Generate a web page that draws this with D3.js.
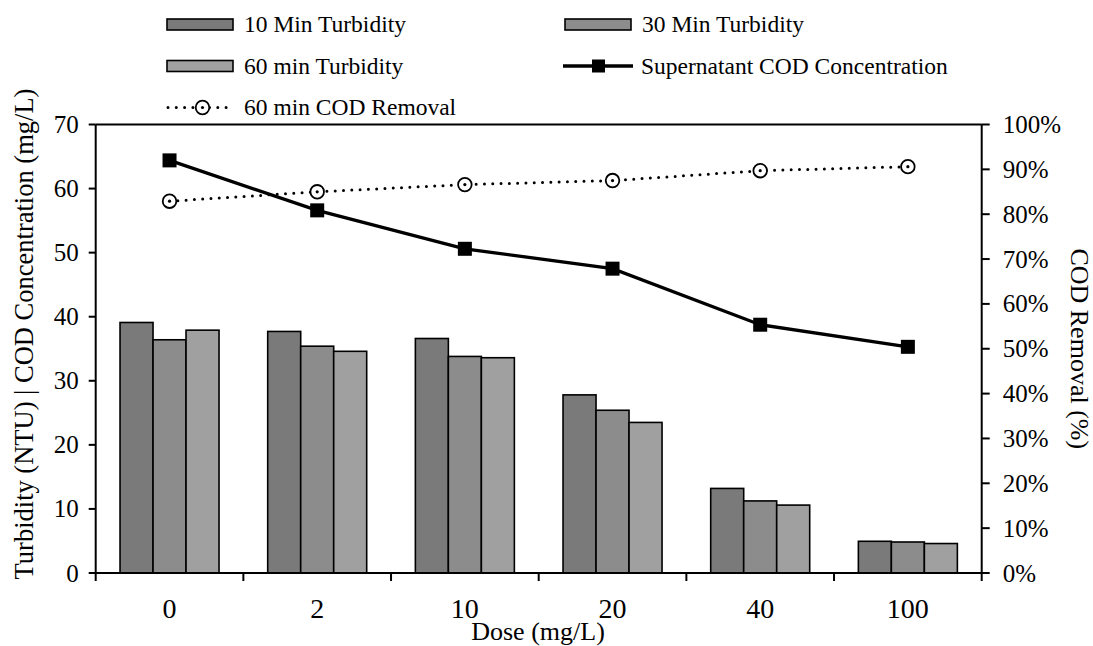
<!DOCTYPE html>
<html>
<head>
<meta charset="utf-8">
<script src="https://cdn.jsdelivr.net/npm/d3@7/dist/d3.min.js"></script>
<style>
  html, body { margin: 0; padding: 0; background: #fff; }
  svg { display: block; }
  text { font-family: "Liberation Serif", "Times New Roman", "DejaVu Serif", serif; fill: #000; }
</style>
</head>
<body>
<svg id="chart" width="1093" height="646" font-family="Liberation Serif, Times New Roman, serif"></svg>
<script>
// ---- data ----
const doses = ["0", "2", "10", "20", "40", "100"];
const seriesNames = ["10 Min Turbidity", "30 Min Turbidity", "60 min Turbidity"];
const turb10 = [39.1, 37.7, 36.6, 27.8, 13.2, 4.95];
const turb30 = [36.4, 35.4, 33.8, 25.4, 11.25, 4.84];
const turb60 = [37.9, 34.6, 33.6, 23.5, 10.6, 4.6];
const codConc = [64.4, 56.6, 50.6, 47.5, 38.75, 35.3];
const codRemoval = [82.9, 85.0, 86.6, 87.5, 89.7, 90.6];
const leftTicks = [0, 10, 20, 30, 40, 50, 60, 70];
const rightTicks = [0, 10, 20, 30, 40, 50, 60, 70, 80, 90, 100];

const barColors = ["#7a7a7a", "#8c8c8c", "#a0a0a0"];

const svg = d3.select("#chart");
const L = 95.7, R = 981.7, T = 124.5, B = 573;

const x0 = d3.scaleBand().domain(doses).range([L, R]).padding(0);
const groupW = 99;
const x1 = d3.scaleBand().domain(seriesNames)
  .range([(x0.bandwidth() - groupW) / 2, (x0.bandwidth() + groupW) / 2]).padding(0);
const yL = d3.scaleLinear().domain([0, 70]).range([B, T]);
const yR = d3.scaleLinear().domain([0, 100]).range([B, T]);

// bars
const barData = [turb10, turb30, turb60];
doses.forEach((d, i) => {
  const g = svg.append("g").attr("transform", `translate(${x0(d)},0)`);
  seriesNames.forEach((s, j) => {
    g.append("rect")
      .attr("x", x1(s))
      .attr("y", yL(barData[j][i]))
      .attr("width", x1.bandwidth())
      .attr("height", B - yL(barData[j][i]))
      .attr("fill", barColors[j])
      .attr("stroke", "#000")
      .attr("stroke-width", 1.6);
  });
});

// axes
const axisStroke = 2;
svg.append("line").attr("x1", L).attr("x2", R).attr("y1", T).attr("y2", T)
  .attr("stroke", "#000").attr("stroke-width", axisStroke);

const gx = svg.append("g").attr("transform", `translate(0,${B})`);
gx.append("line").attr("x1", L).attr("x2", R).attr("stroke", "#000").attr("stroke-width", axisStroke);
const boundaries = doses.map(d => x0(d)).concat([R]);
gx.selectAll("line.tk").data(boundaries).enter().append("line")
  .attr("x1", d => d).attr("x2", d => d).attr("y1", 0).attr("y2", 8)
  .attr("stroke", "#000").attr("stroke-width", axisStroke);
gx.selectAll("text").data(doses).enter().append("text")
  .attr("x", d => x0(d) + x0.bandwidth() / 2)
  .attr("y", 45)
  .attr("text-anchor", "middle")
  .attr("font-size", 28)
  .text(d => d);

const gyl = svg.append("g").attr("transform", `translate(${L},0)`);
gyl.append("line").attr("y1", T).attr("y2", B).attr("stroke", "#000").attr("stroke-width", axisStroke);
gyl.selectAll("line.tk").data(leftTicks).enter().append("line")
  .attr("x1", -7).attr("x2", 0).attr("y1", d => yL(d)).attr("y2", d => yL(d))
  .attr("stroke", "#000").attr("stroke-width", axisStroke);
gyl.selectAll("text").data(leftTicks).enter().append("text")
  .attr("x", -17).attr("y", d => yL(d) + 8.5)
  .attr("text-anchor", "end").attr("font-size", 25)
  .text(d => d);

const gyr = svg.append("g").attr("transform", `translate(${R},0)`);
gyr.append("line").attr("y1", T).attr("y2", B).attr("stroke", "#000").attr("stroke-width", axisStroke);
gyr.selectAll("line.tk").data(rightTicks).enter().append("line")
  .attr("x1", 0).attr("x2", 8).attr("y1", d => yR(d)).attr("y2", d => yR(d))
  .attr("stroke", "#000").attr("stroke-width", axisStroke);
gyr.selectAll("text").data(rightTicks).enter().append("text")
  .attr("x", 21).attr("y", d => yR(d) + 8.5)
  .attr("text-anchor", "start").attr("font-size", 25)
  .text(d => d + "%");

// axis titles
svg.append("text").attr("x", 538).attr("y", 640).attr("text-anchor", "middle")
  .attr("font-size", 26).text("Dose (mg/L)");
svg.append("text").attr("transform", "translate(33,334) rotate(-90)")
  .attr("text-anchor", "middle").attr("font-size", 26.5)
  .text("Turbidity (NTU) | COD Concentration (mg/L)");
svg.append("text").attr("transform", `translate(1071,${(T + B) / 2}) rotate(90)`)
  .attr("text-anchor", "middle").attr("font-size", 26)
  .text("COD Removal (%)");

// lines
const cx = d => x0(d) + x0.bandwidth() / 2;
const remLine = d3.line().x((v, i) => cx(doses[i])).y(v => yR(v));
svg.append("path").datum(codRemoval).attr("d", remLine)
  .attr("fill", "none").attr("stroke", "#000").attr("stroke-width", 3)
  .attr("stroke-linecap", "round").attr("stroke-dasharray", "0,8.3");

const codLine = d3.line().x((v, i) => cx(doses[i])).y(v => yL(v));
svg.append("path").datum(codConc).attr("d", codLine)
  .attr("fill", "none").attr("stroke", "#000").attr("stroke-width", 3.3);

svg.selectAll("rect.sq").data(codConc).enter().append("rect")
  .attr("x", (v, i) => cx(doses[i]) - 7).attr("y", v => yL(v) - 7)
  .attr("width", 14).attr("height", 14).attr("fill", "#000");

const circ = svg.selectAll("g.circ").data(codRemoval).enter().append("g")
  .attr("transform", (v, i) => `translate(${cx(doses[i])},${yR(v)})`);
circ.append("circle").attr("r", 6.8).attr("fill", "#fff").attr("stroke", "#000").attr("stroke-width", 1.8);
circ.append("circle").attr("r", 1.6).attr("fill", "#000");

// legend
const legFont = 23.5;
const rows = [24.5, 66, 107.5];
const col1 = 167, col2 = 565, swW = 67, txtOff = 77;
function swatch(x, y, color, label) {
  svg.append("rect").attr("x", x).attr("y", y - 5.5).attr("width", swW - 1).attr("height", 11)
    .attr("fill", color).attr("stroke", "#000").attr("stroke-width", 1.6);
  svg.append("text").attr("x", x + txtOff).attr("y", y + 7.5).attr("font-size", legFont).text(label);
}
swatch(col1, rows[0], barColors[0], seriesNames[0]);
swatch(col2, rows[0], barColors[1], seriesNames[1]);
swatch(col1, rows[1], barColors[2], seriesNames[2]);

svg.append("line").attr("x1", col2 - 2).attr("x2", col2 + swW + 1).attr("y1", rows[1]).attr("y2", rows[1])
  .attr("stroke", "#000").attr("stroke-width", 3.3);
svg.append("rect").attr("x", col2 + 27).attr("y", rows[1] - 6.5).attr("width", 13).attr("height", 13).attr("fill", "#000");
svg.append("text").attr("x", col2 + txtOff - 1).attr("y", rows[1] + 7.5).attr("font-size", legFont)
  .text("Supernatant COD Concentration");

svg.append("line").attr("x1", col1 + 1).attr("x2", col1 + swW).attr("y1", rows[2]).attr("y2", rows[2])
  .attr("stroke", "#000").attr("stroke-width", 3).attr("stroke-linecap", "round")
  .attr("stroke-dasharray", "0,8.3");
svg.append("circle").attr("cx", 202.5).attr("cy", rows[2]).attr("r", 6.8)
  .attr("fill", "#fff").attr("stroke", "#000").attr("stroke-width", 1.8);
svg.append("circle").attr("cx", 202.5).attr("cy", rows[2]).attr("r", 1.6).attr("fill", "#000");
svg.append("text").attr("x", col1 + txtOff).attr("y", rows[2] + 7.5).attr("font-size", legFont)
  .text("60 min COD Removal");
</script>
</body>
</html>
